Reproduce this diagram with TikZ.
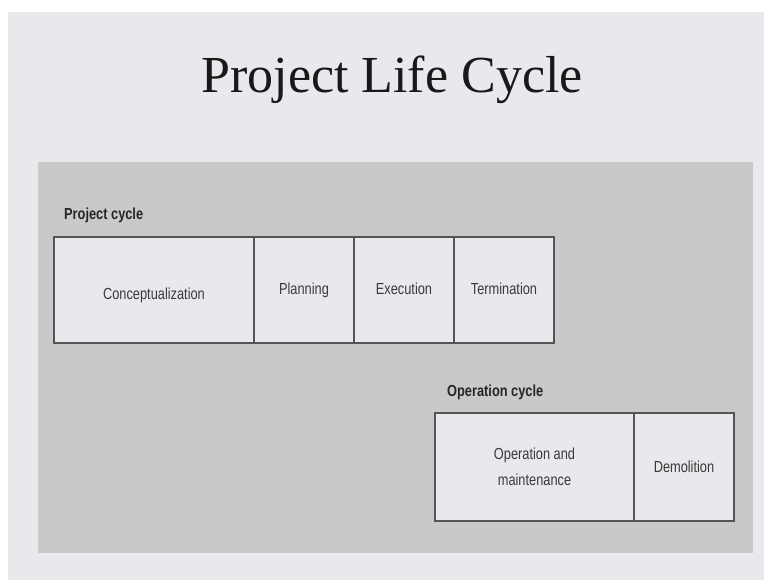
\documentclass[tikz,border=0pt]{standalone}
\usepackage{fontspec}
\setmainfont{Liberation Serif}
\newfontfamily\narrowsans[FakeStretch=0.8]{Liberation Sans}
\definecolor{slidebg}{HTML}{E9E8EC}
\definecolor{panelbg}{HTML}{C9C9CA}
\definecolor{boxline}{HTML}{555555}
\definecolor{labeltext}{HTML}{3A3A3A}
\begin{document}
\begin{tikzpicture}[x=1pt,y=-1pt,
  phase/.style={draw=boxline, line width=1.4pt, fill=slidebg, rectangle,
    minimum height=106pt, inner sep=0pt, text=labeltext,
    font=\narrowsans\fontsize{16}{19}\selectfont, align=center},
  cyclelabel/.style={anchor=west, inner sep=0pt, text=black!85,
    font=\narrowsans\bfseries\fontsize{16}{19}\selectfont}]
  \useasboundingbox (0,0) rectangle (764,580);
  % slide and grey panel
  \fill[white] (0,0) rectangle (764,580);
  \fill[slidebg] (8,12) rectangle (764,580);
  \fill[panelbg] (38,162) rectangle (753,553);
  % title
  \node[anchor=base, inner sep=0pt, font=\fontsize{52}{60}\selectfont, text=black!90]
    (title) at (392,93) {Project Life Cycle};
  % project cycle
  \node[cyclelabel] (pclabel) at (64,215) {Project cycle};
  \node[phase, minimum width=200pt] (concept) at (154,290)
    {\raisebox{-5pt}[\height][\depth]{Conceptualization}};
  \node[phase, minimum width=100pt] (plan) at (304,290) {Planning};
  \node[phase, minimum width=100pt] (exec) at (404,290) {Execution\vphantom{g}};
  \node[phase, minimum width=100pt] (term) at (504,290) {Termination\vphantom{g}};
  % operation cycle
  \node[cyclelabel] (oclabel) at (447,392) {Operation cycle};
  \node[phase, minimum width=199pt, minimum height=108pt] (opm) at (534.5,467)
    {Operation and\\[7pt]maintenance};
  \node[phase, minimum width=100pt, minimum height=108pt] (demo) at (684,467) {Demolition};
\end{tikzpicture}
\end{document}
